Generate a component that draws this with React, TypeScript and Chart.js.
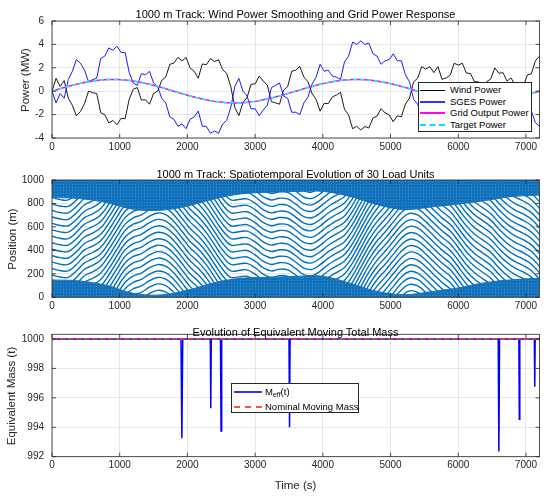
import Chart from "chart.js/auto";
import { useEffect, useRef } from "react";

const FONT = '"Liberation Sans", Arial, Helvetica, sans-serif';
const TICK_COLOR = "#262626";
const GRID_COLOR = "#e0e0e0";

// tick labels
const timeTicks = [0, 1000, 2000, 3000, 4000, 5000, 6000, 7000];
const powerTicks = [-4, -2, 0, 2, 4, 6];
const positionTicks = [0, 200, 400, 600, 800, 1000];
const massTicks = [992, 994, 996, 998, 1000];

// ---- panel 1: power series, one value every 60 s from 0 to 7200 s
const SAMPLE_STEP = 60;
const sgesPower = [
  0.0, -1.0, -0.2, -0.6, 1.0, 1.7, 2.7, 2.4, 1.8, 0.8,
  1.0, 1.1, 2.8, 3.0, 3.7, 3.5, 3.85, 3.3, 3.3, 1.6,
  0.7, 0.5, 1.5, 1.4, 1.7, 0.7, 0.4, -0.6, -1.0, -2.2,
  -2.4, -3.0, -2.8, -3.2, -2.4, -2.2, -1.7, -3.0, -3.0, -3.6,
  -3.4, -3.6, -2.8, -2.5, -1.4, 0.4, 1.1, 0.0, -0.4, -1.5,
  -1.5, -2.1, -1.6, -1.2, 0.3, 0.5, 0.7, -0.4, -0.6, -1.8,
  -1.8, -2.0, -1.0, -0.5, 0.6, 1.2, 2.3, 1.7, 1.8, 1.3,
  1.2, 1.0, 2.5, 3.0, 4.2, 4.0, 4.3, 4.0, 4.1, 3.2,
  3.0, 2.3, 2.6, 2.7, 3.2, 2.6, 2.6, 1.4, 0.8, -0.7,
  -1.1, -2.2, -2.1, -2.4, -2.0, -2.6, -1.6, -1.8, -2.1, -3.2,
  -3.1, -3.3, -2.5, -2.5, -1.8, -1.8, -1.2, -1.8, -2.0, -2.9,
  -2.4, -2.4, -1.6, -1.8, -1.1, -1.2, -0.8, -1.7, -1.7, -2.7,
  -3.0,
];
const windPower = [
  0.0, 1.1, 0.41, 0.91, -0.59, -1.2, -2.11, -1.73, -1.06, 0.01,
  -0.13, -0.19, -1.85, -2.02, -2.71, -2.5, -2.86, -2.32, -2.35, -0.69,
  0.17, 0.31, -0.76, -0.73, -1.11, -0.2, 0.01, 0.91, 1.21, 2.3,
  2.4, 2.9, 2.59, 2.89, 1.99, 1.7, 1.11, 2.33, 2.26, 2.79,
  2.53, 2.69, 1.85, 1.52, 0.41, -1.4, -2.09, -0.98, -0.55, 0.59,
  0.63, 1.29, 0.86, 0.53, -0.89, -1.0, -1.11, 0.09, 0.39, 1.7,
  1.8, 2.1, 1.21, 0.81, -0.19, -0.7, -1.71, -1.03, -1.06, -0.49,
  -0.33, -0.09, -1.55, -2.02, -3.21, -3.0, -3.31, -3.02, -3.15, -2.29,
  -2.13, -1.49, -1.86, -2.03, -2.61, -2.1, -2.19, -1.09, -0.59, 0.8,
  1.1, 2.1, 1.89, 2.09, 1.59, 2.1, 1.01, 1.13, 1.36, 2.39,
  2.23, 2.39, 1.55, 1.52, 0.81, 0.8, 0.21, 0.82, 1.05, 1.99,
  1.53, 1.59, 0.86, 1.13, 0.51, 0.7, 0.39, 1.39, 1.49, 2.6,
  3.0,
];
const targetPower = [
  0, 0.1, 0.21, 0.31, 0.41, 0.5, 0.59, 0.67, 0.74, 0.81,
  0.87, 0.91, 0.95, 0.98, 0.99, 1.0, 0.99, 0.98, 0.95, 0.91,
  0.87, 0.81, 0.74, 0.67, 0.59, 0.5, 0.41, 0.31, 0.21, 0.1,
  0, -0.1, -0.21, -0.31, -0.41, -0.5, -0.59, -0.67, -0.74, -0.81,
  -0.87, -0.91, -0.95, -0.98, -0.99, -1.0, -0.99, -0.98, -0.95, -0.91,
  -0.87, -0.81, -0.74, -0.67, -0.59, -0.5, -0.41, -0.31, -0.21, -0.1,
  0, 0.1, 0.21, 0.31, 0.41, 0.5, 0.59, 0.67, 0.74, 0.81,
  0.87, 0.91, 0.95, 0.98, 0.99, 1.0, 0.99, 0.98, 0.95, 0.91,
  0.87, 0.81, 0.74, 0.67, 0.59, 0.5, 0.41, 0.31, 0.21, 0.1,
  0, -0.1, -0.21, -0.31, -0.41, -0.5, -0.59, -0.67, -0.74, -0.81,
  -0.87, -0.91, -0.95, -0.98, -0.99, -1.0, -0.99, -0.98, -0.95, -0.91,
  -0.87, -0.81, -0.74, -0.67, -0.59, -0.5, -0.41, -0.31, -0.21, -0.1,
  0,
];
// grid output follows the target exactly
const gridOutputPower = targetPower;

// ---- panel 2: common drift of the moving units (every 120 s) and their levels at t = 0
const DRIFT_STEP = 120;
const unitDrift = [
  0, -17, -20, 34, 104, 137, 182, 275, 385, 489,
  543, 567, 612, 639, 625, 567, 483, 396, 332, 251,
  149, 49, -20, -16, -11, -48, -103, -130, -115, -121,
  -166, -217, -227, -187, -131, -89, -46, 49, 174, 299,
  400, 477, 561, 643, 690, 677, 620, 553, 487, 432,
  345, 254, 184, 134, 83, 7, -59, -106, -139, -183,
  -257,
];
const unitLevels = [
  -690, -635, -580, -525, -470, -415, -360, -305, -250, -195,
  -140, -85, -30, 25, 80, 135, 190, 245, 300, 355,
  410, 465, 520, 575, 630, 685, 740, 795, 850, 905,
  960, 1015, 1070, 1125, 1180, 1235,
];
// parked-unit bands (every 400 s)
const BAND_STEP = 400;
const topBandEdge = [850, 842, 808, 750, 742, 778, 840, 882, 896, 902, 903, 860, 790, 748, 770, 795, 825, 860, 872];
const bottomBandEdge = [148, 140, 103, 34, 20, 60, 125, 162, 170, 178, 180, 120, 50, 22, 48, 80, 125, 150, 162];

// ---- panel 3: equivalent moving mass
const massTime = [
  0, 1905, 1918, 1931, 2338, 2345, 2352, 2488, 2497, 2506,
  3500, 3508, 3516, 6590, 6600, 6610, 6895, 6902, 6909, 7124,
  7130, 7136, 7200,
];
const massValue = [
  1000, 1000, 993.25, 1000, 1000, 995.3, 1000, 1000, 993.75, 1000,
  1000, 994.0, 1000, 1000, 992.35, 1000, 1000, 994.55, 1000, 1000,
  996.75, 1000, 1000,
];
const nominalMass = [1000, 1000];
const nominalTime = [0, 7200];

const boxPlugin = {
  id: "matlabBox",
  afterDraw(chart: any) {
    const { ctx, chartArea: a, scales } = chart;
    ctx.save();
    ctx.strokeStyle = TICK_COLOR;
    ctx.lineWidth = 0.8;
    ctx.strokeRect(a.left, a.top, a.right - a.left, a.bottom - a.top);
    const len = 4;
    ctx.beginPath();
    scales.x.ticks.forEach((t: any) => {
      const px = scales.x.getPixelForValue(t.value);
      ctx.moveTo(px, a.bottom);
      ctx.lineTo(px, a.bottom - len);
      ctx.moveTo(px, a.top);
      ctx.lineTo(px, a.top + len);
    });
    scales.y.ticks.forEach((t: any) => {
      const py = scales.y.getPixelForValue(t.value);
      ctx.moveTo(a.left, py);
      ctx.lineTo(a.left + len, py);
      ctx.moveTo(a.right, py);
      ctx.lineTo(a.right - len, py);
    });
    ctx.stroke();
    ctx.restore();
  },
};

const tickFont = { family: FONT, size: 10 };
const fixedTicks = (values: number[]) => (s: any) => {
  s.ticks = values.map((value) => ({ value }));
};

function xAxis(height: number) {
  return {
    type: "linear",
    min: 0,
    max: 7200,
    afterFit: (s: any) => {
      s.height = height;
    },
    afterBuildTicks: fixedTicks(timeTicks),
    ticks: {
      color: TICK_COLOR,
      font: tickFont,
      padding: 3,
      maxRotation: 0,
      autoSkip: false,
      callback: (v: number) => String(v),
    },
    grid: { color: GRID_COLOR, lineWidth: 0.8, drawTicks: false },
    border: { display: false },
  };
}

function yAxis(min: number, max: number, values: number[]) {
  return {
    type: "linear",
    min,
    max,
    afterFit: (s: any) => {
      s.width = 52;
    },
    afterBuildTicks: fixedTicks(values),
    ticks: { color: TICK_COLOR, font: tickFont, padding: 8, callback: (v: number) => String(v) },
    grid: { color: GRID_COLOR, lineWidth: 0.8, drawTicks: false },
    border: { display: false },
  };
}

function baseOptions(top: number, xHeight: number, y: any) {
  return {
    responsive: false,
    maintainAspectRatio: false,
    animation: false,
    events: [],
    layout: { padding: { left: 0, right: 10.5, top, bottom: 0 } },
    plugins: { legend: { display: false }, tooltip: { enabled: false }, title: { display: false } },
    scales: { x: xAxis(xHeight), y },
  };
}

const line = (label: string, data: any[], color: string, width: number, order: number, dash: number[] = []) => ({
  label,
  data,
  borderColor: color,
  borderWidth: width,
  borderDash: dash,
  pointRadius: 0,
  tension: 0,
  fill: false,
  order,
});

const everyStep = (values: number[], step: number) => values.map((y, i) => ({ x: i * step, y }));

function buildPowerChart(): any {
  return {
    type: "line",
    data: {
      datasets: [
        line("Wind Power", everyStep(windPower, SAMPLE_STEP), "#000000", 0.9, 4),
        line("SGES Power", everyStep(sgesPower, SAMPLE_STEP), "#0000ff", 0.9, 3),
        line("Grid Output Power", everyStep(gridOutputPower, SAMPLE_STEP), "#ff00ff", 1.5, 2),
        line("Target Power", everyStep(targetPower, SAMPLE_STEP), "#00ffff", 1.5, 1, [4, 3]),
      ],
    },
    options: baseOptions(21, 22, yAxis(-4, 6, powerTicks)),
    plugins: [boxPlugin],
  };
}

function bandPattern(ctx: CanvasRenderingContext2D) {
  const c = document.createElement("canvas");
  c.width = 3;
  c.height = 3;
  const g = c.getContext("2d")!;
  g.fillStyle = "#1271bb";
  g.fillRect(0, 0, 3, 3);
  g.fillStyle = "#3f8dcc";
  g.fillRect(0, 0, 1, 1);
  return ctx.createPattern(c, "repeat") || "#1271bb";
}

function buildTrackChart(ctx: CanvasRenderingContext2D): any {
  const pattern = bandPattern(ctx);
  const band = (data: number[], fill: string) => ({
    data: everyStep(data, BAND_STEP),
    fill,
    backgroundColor: pattern,
    borderColor: "#1271bb",
    borderWidth: 1,
    pointRadius: 0,
    tension: 0.35,
    order: 0,
  });
  const units = unitLevels.map((level, n) => ({
    label: `unit ${n}`,
    data: unitDrift.map((d, j) => ({ x: j * DRIFT_STEP, y: level + d })),
    borderColor: "#0072bd",
    borderWidth: 1.4,
    pointRadius: 0,
    tension: 0.4,
    fill: false,
    order: 1,
  }));
  return {
    type: "line",
    data: { datasets: [band(topBandEdge, "end"), band(bottomBandEdge, "start"), ...units] },
    options: baseOptions(20, 22.7, yAxis(0, 1000, positionTicks)),
    plugins: [boxPlugin],
  };
}

function buildMassChart(): any {
  return {
    type: "line",
    data: {
      datasets: [
        line("M_eff(t)", massValue.map((y, i) => ({ x: massTime[i], y })), "#0000ff", 1.5, 2),
        line("Nominal Moving Mass", nominalMass.map((y, i) => ({ x: nominalTime[i], y })), "#ff3b3b", 1.3, 1, [5, 3]),
      ],
    },
    options: baseOptions(14.3, 41.3, yAxis(992, 1000.32, massTicks)),
    plugins: [boxPlugin],
  };
}

const ChartPanel = ({ top, height, build }: { top: number; height: number; build: (ctx: CanvasRenderingContext2D) => any }) => {
  const canvasRef = useRef<HTMLCanvasElement>(null);

  useEffect(() => {
    const ctx = canvasRef.current?.getContext("2d");
    if (!ctx) return;
    const chart = new Chart(ctx, build(ctx));
    return () => {
      chart.destroy();
    };
  }, [build]);

  return (
    <canvas
      ref={canvasRef}
      width={550}
      height={height}
      style={{ position: "absolute", left: 0, top, width: 550, height }}
    />
  );
};

const Label = ({ x, y, size = 11.5, rotate = false, color = TICK_COLOR, children }: any) => (
  <div
    style={{
      position: "absolute",
      left: x,
      top: y,
      transform: `translate(-50%, -50%)${rotate ? " rotate(-90deg)" : ""}`,
      fontSize: size,
      lineHeight: 1,
      whiteSpace: "nowrap",
      color,
    }}
  >
    {children}
  </div>
);

interface LegendItem {
  label: any;
  color: string;
  width: number;
  dashed?: boolean;
  y: number;
}

const LegendBox = ({ left, top, width, height, lineLeft, lineWidth, textLeft, items }: any) => (
  <div
    style={{
      position: "absolute",
      left,
      top,
      width,
      height,
      boxSizing: "border-box",
      border: "1px solid #262626",
      background: "#fff",
    }}
  >
    {items.map((it: LegendItem, i: number) => (
      <div key={i}>
        <div
          style={{
            position: "absolute",
            left: lineLeft,
            width: lineWidth,
            top: it.y - it.width / 2,
            borderTop: `${it.width}px ${it.dashed ? "dashed" : "solid"} ${it.color}`,
          }}
        />
        <div
          style={{
            position: "absolute",
            left: textLeft,
            top: it.y,
            transform: "translateY(-50%)",
            fontSize: 9.5,
            lineHeight: 1,
            whiteSpace: "nowrap",
            color: "#000",
          }}
        >
          {it.label}
        </div>
      </div>
    ))}
  </div>
);

export default function App() {
  return (
    <div
      style={{
        position: "absolute",
        left: 0,
        top: 0,
        width: 550,
        height: 498,
        background: "#fff",
        overflow: "hidden",
        fontFamily: FONT,
      }}
    >
      <ChartPanel top={0} height={160} build={buildPowerChart} />
      <ChartPanel top={160} height={160} build={buildTrackChart} />
      <ChartPanel top={320} height={178} build={buildMassChart} />

      <Label x={295.5} y={13.5} size={11} color="#000">1000 m Track: Wind Power Smoothing and Grid Power Response</Label>
      <Label x={295.5} y={173.5} size={11} color="#000">1000 m Track: Spatiotemporal Evolution of 30 Load Units</Label>
      <Label x={295.5} y={331.5} size={11} color="#000">Evolution of Equivalent Moving Total Mass</Label>

      <Label x={26} y={79.5} rotate>Power (MW)</Label>
      <Label x={13} y={239} rotate>Position (m)</Label>
      <Label x={12} y={395.5} rotate>Equivalent Mass (t)</Label>
      <Label x={295.5} y={485.5}>Time (s)</Label>

      <LegendBox
        left={417.5}
        top={81.7}
        width={114}
        height={50}
        lineLeft={1.5}
        lineWidth={25}
        textLeft={31.5}
        items={[
          { label: "Wind Power", color: "#000", width: 1 },
          { label: "SGES Power", color: "#3333ff", width: 2 },
          { label: "Grid Output Power", color: "#ff00ff", width: 2 },
          { label: "Target Power", color: "#00e5ff", width: 2, dashed: true },
        ].map((it, i) => ({ ...it, y: 7.6 + i * 11.6 }))}
      />

      <LegendBox
        left={231}
        top={383.3}
        width={128}
        height={30}
        lineLeft={2}
        lineWidth={28}
        textLeft={33}
        items={[
          {
            label: (
              <span>
                M<sub style={{ fontSize: 7, verticalAlign: "-2px" }}>eff</sub>(t)
              </span>
            ),
            color: "#3333ff",
            width: 2,
            y: 7.4,
          },
          { label: "Nominal Moving Mass", color: "#ff4d4d", width: 2, dashed: true, y: 22.4 },
        ]}
      />
    </div>
  );
}
